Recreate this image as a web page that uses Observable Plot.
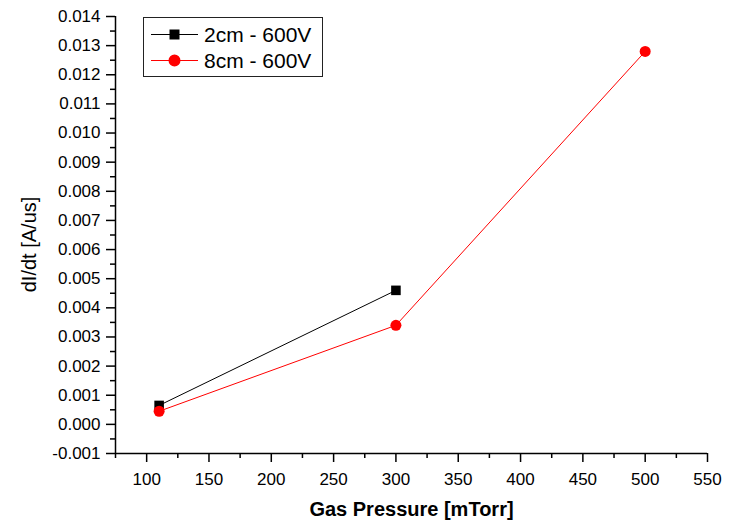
<!DOCTYPE html>
<html>
<head>
<meta charset="utf-8">
<script src="https://cdn.jsdelivr.net/npm/d3@7"></script>
<script src="https://cdn.jsdelivr.net/npm/@observablehq/plot@0.6"></script>
<style>
  html, body { margin: 0; padding: 0; background: #fff; }
  #chart { position: relative; width: 729px; height: 521px; font-family: "Liberation Sans", Arial, sans-serif; }
  #legend { position: absolute; left: 143px; top: 17px; }
</style>
</head>
<body>
<div id="chart"><div id="legend"></div></div>
<script>
// Rate of current rise vs. gas pressure, two electrode gaps at 600 V
const series = ["2cm - 600V", "8cm - 600V"];
const colors = ["#000000", "#ff0000"];
const symbols = ["square", "circle"];

const pressure2cm = [110, 300];
const didt2cm = [0.00065, 0.0046];

const pressure8cm = [110, 300, 500];
const didt8cm = [0.00045, 0.0034, 0.0128];

const xDomain = [75, 550];
const yDomain = [-0.001, 0.014];
const xTicks = [100, 150, 200, 250, 300, 350, 400, 450, 500, 550];
const xMinorTicks = [75, 125, 175, 225, 275, 325, 375, 425, 475, 525];
const yTicks = [-0.001, 0, 0.001, 0.002, 0.003, 0.004, 0.005, 0.006, 0.007,
                0.008, 0.009, 0.010, 0.011, 0.012, 0.013, 0.014];
const yMinorTicks = [-0.0005, 0.0005, 0.0015, 0.0025, 0.0035, 0.0045, 0.0055, 0.0065,
                     0.0075, 0.0085, 0.0095, 0.0105, 0.0115, 0.0125, 0.0135];

const xLabel = "Gas Pressure [mTorr]";
const yLabel = "dI/dt [A/us]";

const rows = [
  ...pressure2cm.map((p, i) => ({series: series[0], pressure: p, didt: didt2cm[i]})),
  ...pressure8cm.map((p, i) => ({series: series[1], pressure: p, didt: didt8cm[i]}))
];
const s0 = rows.filter(d => d.series === series[0]);
const s1 = rows.filter(d => d.series === series[1]);

const chart = Plot.plot({
  width: 729,
  height: 521,
  marginLeft: 115,
  marginRight: 22,
  marginTop: 16,
  marginBottom: 68,
  x: {domain: xDomain},
  y: {domain: yDomain},
  style: {fontFamily: "'Liberation Sans', Arial, sans-serif", color: "#000", background: "#fff", overflow: "visible"},
  marks: [
    // axis lines (left and bottom only)
    Plot.ruleX([xDomain[0]], {strokeWidth: 1.5}),
    Plot.ruleY([yDomain[0]], {strokeWidth: 1.5}),
    // minor ticks
    Plot.axisY(yMinorTicks, {tickSize: 5, strokeWidth: 1.5, text: null, label: null}),
    Plot.axisX(xMinorTicks, {tickSize: 5, strokeWidth: 1.5, text: null, label: null}),
    // major ticks with labels
    Plot.axisY(yTicks, {tickSize: 9, tickPadding: 6, strokeWidth: 1.5, fontSize: 17,
                        tickFormat: d => d.toFixed(3), label: null}),
    Plot.axisX(xTicks, {tickSize: 9, tickPadding: 10, strokeWidth: 1.5, fontSize: 17,
                        tickFormat: d => String(d), label: null}),
    // axis titles
    Plot.text([yLabel], {text: d => d, frameAnchor: "left", rotate: -90, textAnchor: "middle",
                         lineAnchor: "middle", dx: -86, dy: 9.5, fontSize: 20}),
    Plot.text([xLabel], {text: d => d, frameAnchor: "bottom", textAnchor: "middle",
                         lineAnchor: "middle", dy: 56, fontSize: 20, fontWeight: "bold"}),
    // series 1: 2 cm gap
    Plot.line(s0, {x: "pressure", y: "didt", stroke: colors[0], strokeWidth: 1}),
    Plot.dot(s0, {x: "pressure", y: "didt", symbol: symbols[0], r: 5.4, fill: colors[0], stroke: null}),
    // series 2: 8 cm gap
    Plot.line(s1, {x: "pressure", y: "didt", stroke: colors[1], strokeWidth: 1}),
    Plot.dot(s1, {x: "pressure", y: "didt", symbol: symbols[1], r: 5.5, fill: colors[1], stroke: null})
  ]
});
document.getElementById("chart").insertBefore(chart, document.getElementById("legend"));

// Legend box
const lw = 180, lh = 60;
const leg = d3.select("#legend").append("svg")
  .attr("width", lw).attr("height", lh)
  .style("display", "block");
leg.append("rect").attr("x", 0.5).attr("y", 0.5).attr("width", lw - 1).attr("height", lh - 1)
  .attr("fill", "#fff").attr("stroke", "#222").attr("stroke-width", 1);
series.forEach((name, i) => {
  const cy = 17 + i * 26;
  const g = leg.append("g");
  g.append("line").attr("x1", 8).attr("x2", 55).attr("y1", cy + 0.5).attr("y2", cy + 0.5)
    .attr("stroke", colors[i]).attr("stroke-width", 1);
  g.append("path")
    .attr("d", d3.symbol(symbols[i] === "square" ? d3.symbolSquare : d3.symbolCircle,
                         symbols[i] === "square" ? 100 : 113)())
    .attr("transform", `translate(31.5,${cy + 0.5})`)
    .attr("fill", colors[i]);
  g.append("text").attr("x", 61).attr("y", cy).attr("dy", "0.36em")
    .attr("font-family", "'Liberation Sans', Arial, sans-serif").attr("font-size", 21)
    .attr("fill", "#000").text(name);
});
</script>
</body>
</html>
